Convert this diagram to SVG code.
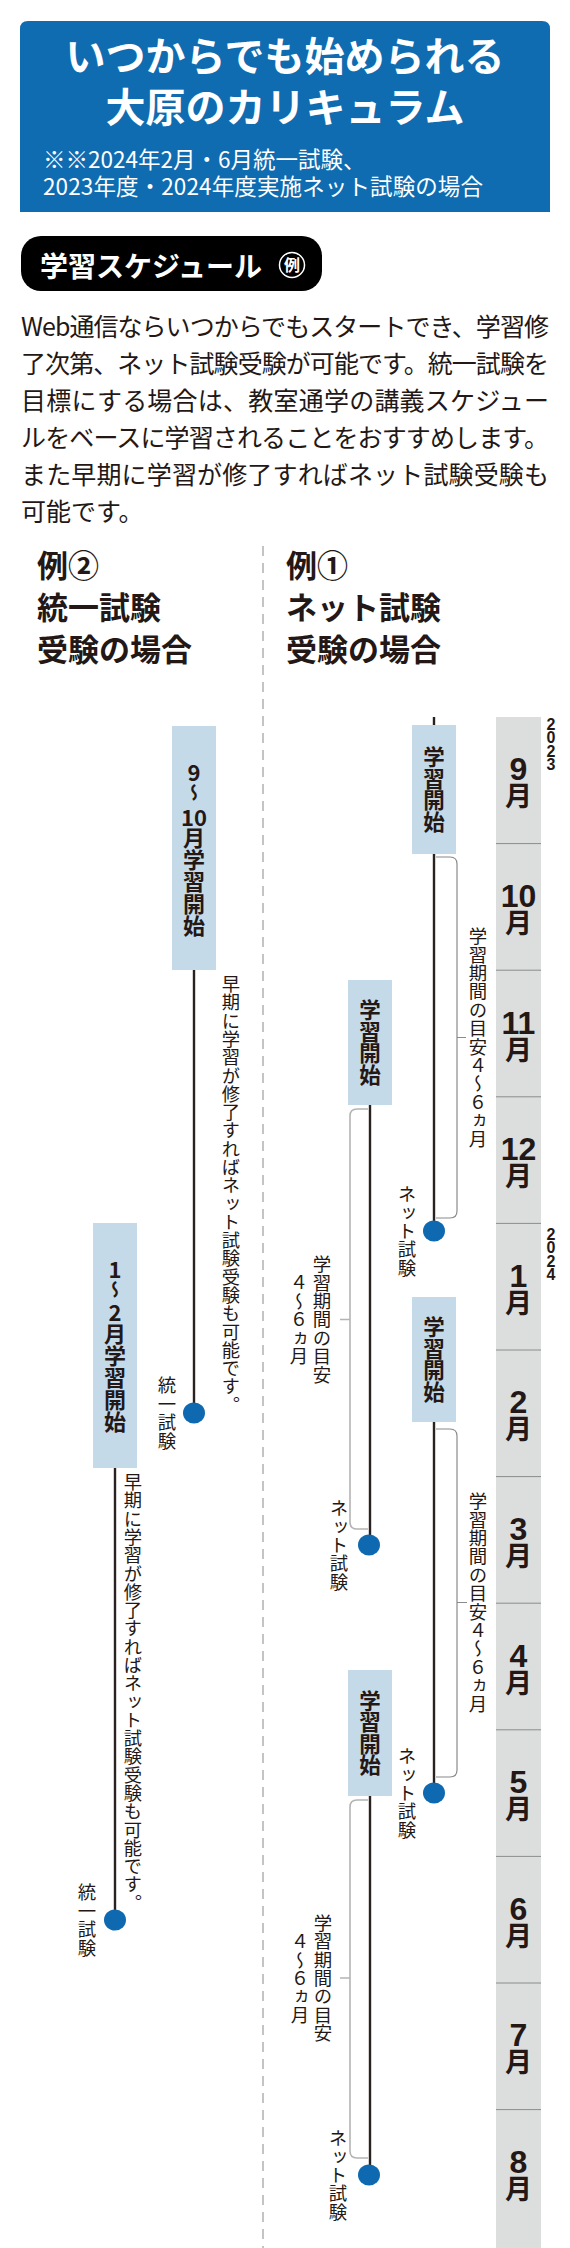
<svg xmlns="http://www.w3.org/2000/svg" width="570" height="2248" viewBox="0 0 570 2248">
<style>
text{font-family:"Noto Sans CJK JP","Noto Sans",sans-serif;fill:#231815}
.w{fill:#fff}
.ttl{font-size:40px;font-weight:bold;text-anchor:middle}
.sub{font-size:22.5px}
.body{font-size:25px}
.hd{font-size:31px;font-weight:bold}
.box{fill:#c5dae9}
.bt{font-size:21.5px;font-weight:bold;writing-mode:vertical-rl;text-anchor:middle}
.bk{font-size:22px;font-weight:bold;text-anchor:middle}
.bv{font-size:22px;font-weight:bold;writing-mode:vertical-rl}
.tl{font-size:18px;font-weight:bold;writing-mode:vertical-rl}
.v{font-size:18.4px;writing-mode:vertical-rl;text-anchor:middle}
.vs{font-size:18.3px;writing-mode:vertical-rl}
.ln{stroke:#2a2220;stroke-width:2.4}
.br{fill:none;stroke:#8a8a8a;stroke-width:1.2}
.brl{fill:none;stroke:#b4b4b4;stroke-width:1.6}
.dot{fill:#0f69b0}
.ml{font-weight:bold;text-anchor:middle}
.mn{font-family:"Liberation Sans",Arial,sans-serif;font-size:32px}
.mk{font-size:27px}
.yr{font-family:"Liberation Sans",Arial,sans-serif;font-weight:bold;font-size:16px;text-anchor:middle}
.dv{stroke:#8c8c8c;stroke-width:1}
</style>

<g id="header">
<path d="M20,212 V29 Q20,21 28,21 H542 Q550,21 550,29 V212 Z" fill="#0f6cb1"/>
<text class="ttl w" x="285" y="71">いつからでも始められる</text>
<text class="ttl w" x="285" y="122">大原のカリキュラム</text>
<text class="sub w" x="43" y="168">※※2024年2月・6月統一試験、</text>
<text class="sub w" x="43" y="195" textLength="440" lengthAdjust="spacing">2023年度・2024年度実施ネット試験の場合</text>
</g>

<g id="schedule-title">
<rect x="21" y="236" width="301" height="55" rx="20" fill="#000"/>
<text class="w" x="40" y="277" font-size="28" font-weight="bold">学習スケジュール</text>
<circle cx="292" cy="265" r="12.5" fill="none" stroke="#fff" stroke-width="1.5"/>
<text class="w" x="292" y="271" font-size="16" font-weight="bold" text-anchor="middle">例</text>
</g>

<g id="intro">
<text class="body" x="21" y="335.5" textLength="528" lengthAdjust="spacing">Web通信ならいつからでもスタートでき、学習修</text>
<text class="body" x="21" y="372.5" textLength="528" lengthAdjust="spacing">了次第、ネット試験受験が可能です。統一試験を</text>
<text class="body" x="21" y="409.5" textLength="528" lengthAdjust="spacing">目標にする場合は、教室通学の講義スケジュー</text>
<text class="body" x="21" y="446.5" textLength="528" lengthAdjust="spacing">ルをベースに学習されることをおすすめします。</text>
<text class="body" x="21" y="483.5" textLength="528" lengthAdjust="spacing">また早期に学習が修了すればネット試験受験も</text>
<text class="body" x="21" y="520.5">可能です。</text>
</g>

<g id="heading-ex2">
<text class="hd" x="37" y="577">例②</text>
<text class="hd" x="37" y="619">統一試験</text>
<text class="hd" x="37" y="661">受験の場合</text>
</g>
<g id="heading-ex1">
<text class="hd" x="286" y="577">例①</text>
<text class="hd" x="286" y="619">ネット試験</text>
<text class="hd" x="286" y="661">受験の場合</text>
</g>

<line id="divider" x1="263" y1="546" x2="263" y2="2248" stroke="#c4c4c4" stroke-width="2" stroke-dasharray="10 7"/>

<g id="months">
<rect x="496" y="717" width="45" height="1531" fill="#dcdddd"/>
<g class="dv">
<line x1="496" x2="541" y1="843.6" y2="843.6"/>
<line x1="496" x2="541" y1="970.2" y2="970.2"/>
<line x1="496" x2="541" y1="1096.8" y2="1096.8"/>
<line x1="496" x2="541" y1="1223.4" y2="1223.4"/>
<line x1="496" x2="541" y1="1350" y2="1350"/>
<line x1="496" x2="541" y1="1476.6" y2="1476.6"/>
<line x1="496" x2="541" y1="1603.2" y2="1603.2"/>
<line x1="496" x2="541" y1="1729.8" y2="1729.8"/>
<line x1="496" x2="541" y1="1856.4" y2="1856.4"/>
<line x1="496" x2="541" y1="1983" y2="1983"/>
<line x1="496" x2="541" y1="2109.6" y2="2109.6"/>
</g>
<text id="m9" class="ml"><tspan class="mn" x="518.5" y="780.3">9</tspan><tspan class="mk" x="518.5" y="806.3">月</tspan></text>
<text id="m10" class="ml"><tspan class="mn" x="518.5" y="906.9">10</tspan><tspan class="mk" x="518.5" y="932.9">月</tspan></text>
<text id="m11" class="ml"><tspan class="mn" x="518.5" y="1033.5">11</tspan><tspan class="mk" x="518.5" y="1059.5">月</tspan></text>
<text id="m12" class="ml"><tspan class="mn" x="518.5" y="1160.1">12</tspan><tspan class="mk" x="518.5" y="1186.1">月</tspan></text>
<text id="m1" class="ml"><tspan class="mn" x="518.5" y="1286.7">1</tspan><tspan class="mk" x="518.5" y="1312.7">月</tspan></text>
<text id="m2" class="ml"><tspan class="mn" x="518.5" y="1413.3">2</tspan><tspan class="mk" x="518.5" y="1439.3">月</tspan></text>
<text id="m3" class="ml"><tspan class="mn" x="518.5" y="1539.9">3</tspan><tspan class="mk" x="518.5" y="1565.9">月</tspan></text>
<text id="m4" class="ml"><tspan class="mn" x="518.5" y="1666.5">4</tspan><tspan class="mk" x="518.5" y="1692.5">月</tspan></text>
<text id="m5" class="ml"><tspan class="mn" x="518.5" y="1793.1">5</tspan><tspan class="mk" x="518.5" y="1819.1">月</tspan></text>
<text id="m6" class="ml"><tspan class="mn" x="518.5" y="1919.7">6</tspan><tspan class="mk" x="518.5" y="1945.7">月</tspan></text>
<text id="m7" class="ml"><tspan class="mn" x="518.5" y="2046.3">7</tspan><tspan class="mk" x="518.5" y="2072.3">月</tspan></text>
<text id="m8" class="ml"><tspan class="mn" x="518.5" y="2172.9">8</tspan><tspan class="mk" x="518.5" y="2198.9">月</tspan></text>
<text id="y2023" class="yr"><tspan x="551" y="729.5">2</tspan><tspan x="551" y="743">0</tspan><tspan x="551" y="756.5">2</tspan><tspan x="551" y="770">3</tspan></text>
<text id="y2024" class="yr"><tspan x="551" y="1239.5">2</tspan><tspan x="551" y="1253">0</tspan><tspan x="551" y="1266.5">2</tspan><tspan x="551" y="1280">4</tspan></text>
</g>

<g id="connectors">
<line class="ln" x1="434" y1="717" x2="434" y2="1231"/>
<line class="ln" x1="370" y1="990" x2="370" y2="1545"/>
<line class="ln" x1="434" y1="1300" x2="434" y2="1793"/>
<line class="ln" x1="370" y1="1680" x2="370" y2="2175"/>
<line class="ln" x1="194" y1="960" x2="194" y2="1413"/>
<line class="ln" x1="115" y1="1460" x2="115" y2="1920"/>
<path class="br" d="M436,857 H450 Q457,857 457,864 V1211 Q457,1218 450,1218 H436 M457,1037.5 H466"/>
<path class="br" d="M436,1429 H450 Q457,1429 457,1436 V1770 Q457,1777 450,1777 H436 M457,1602.5 H467"/>
<path class="brl" d="M368,1109 H357 Q350,1109 350,1116 V1522 Q350,1529 357,1529 H368 M350,1319.5 H340"/>
<path class="brl" d="M368,1800 H357 Q350,1800 350,1807 V2151 Q350,2158 357,2158 H368 M350,1978 H340"/>
</g>

<g id="net-a">
<rect class="box" x="412" y="725" width="44" height="129"/>
<text class="bt" x="434" y="789.5">学習開始</text>
<text class="v" x="478" y="1037.5">学習期間の目安４〜６ヵ月</text>
<ellipse class="dot" cx="434" cy="1231" rx="11" ry="10.5"/>
<text class="v" x="407" y="1231">ネット試験</text>
</g>
<g id="net-b">
<rect class="box" x="348" y="980" width="44" height="125"/>
<text class="bt" x="370" y="1042.5">学習開始</text>
<text class="v" x="322" y="1319.5">学習期間の目安</text>
<text class="v" x="299" y="1319.5">４〜６ヵ月</text>
<ellipse class="dot" cx="369" cy="1545" rx="11" ry="10.5"/>
<text class="v" x="339" y="1545">ネット試験</text>
</g>
<g id="net-c">
<rect class="box" x="412" y="1297" width="44" height="125"/>
<text class="bt" x="434" y="1359.5">学習開始</text>
<text class="v" x="478" y="1602.5">学習期間の目安４〜６ヵ月</text>
<ellipse class="dot" cx="434" cy="1793" rx="11" ry="10.5"/>
<text class="v" x="407" y="1793">ネット試験</text>
</g>
<g id="net-d">
<rect class="box" x="348" y="1670" width="44" height="126"/>
<text class="bt" x="370" y="1733">学習開始</text>
<text class="v" x="323" y="1978">学習期間の目安</text>
<text class="v" x="300" y="1978">４〜６ヵ月</text>
<ellipse class="dot" cx="369" cy="2175" rx="11" ry="10.5"/>
<text class="v" x="338" y="2175">ネット試験</text>
</g>

<g id="unified-e">
<rect class="box" x="172" y="726" width="44" height="244"/>
<text class="bk" x="194" y="780.5">9</text>
<text class="tl" x="194" y="783.5">〜</text>
<text class="bk" x="194" y="826">10</text>
<text class="bv" x="194" y="827">月学習開始</text>
<text class="vs" x="231" y="975">早期に学習が修了すればネット試験受験も可能です。</text>
<ellipse class="dot" cx="194" cy="1413" rx="11" ry="10.5"/>
<text class="v" x="167" y="1413">統一試験</text>
</g>
<g id="unified-f">
<rect class="box" x="93" y="1223" width="44" height="245"/>
<text class="bk" x="115" y="1277.5">1</text>
<text class="tl" x="115" y="1280.5">〜</text>
<text class="bk" x="115" y="1321">2</text>
<text class="bv" x="115" y="1323">月学習開始</text>
<text class="vs" x="133" y="1473">早期に学習が修了すればネット試験受験も可能です。</text>
<ellipse class="dot" cx="115" cy="1920" rx="11" ry="10.5"/>
<text class="v" x="87" y="1920">統一試験</text>
</g>
</svg>
